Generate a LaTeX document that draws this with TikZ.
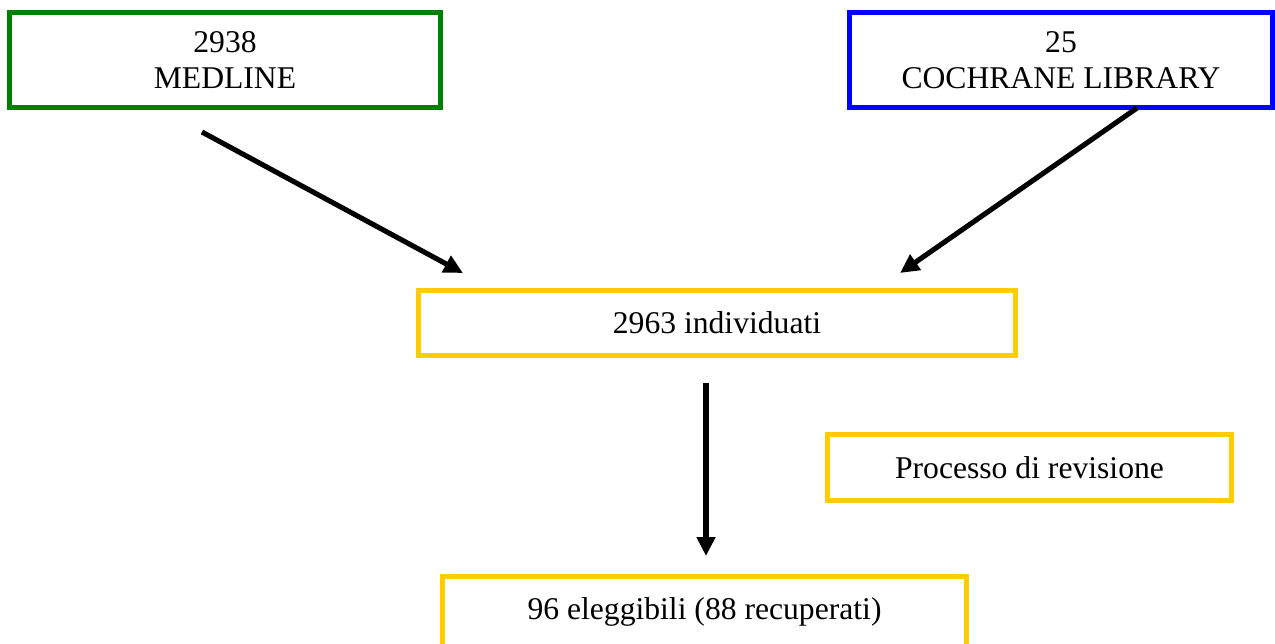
\documentclass[tikz,border=0pt]{standalone}
\usepackage{fontspec}
\setmainfont{Liberation Serif}
\usetikzlibrary{arrows.meta}
\definecolor{medgreen}{RGB}{0,128,0}
\definecolor{cochblue}{RGB}{0,0,255}
\definecolor{revgold}{RGB}{255,204,0}
\tikzset{
  dbbox/.style={draw, line width=2.8pt, align=center, inner sep=0pt,
    font=\fontsize{18}{20.5}\selectfont},
  flowarr/.style={line width=2.9pt, -{Triangle[length=0.38cm,width=0.36cm]}}
}
\begin{document}
\begin{tikzpicture}
				\useasboundingbox (0,0) rectangle (25.5,-12.86);
				\coordinate (M1) at (4.04,-2.64);
				\coordinate (M2) at (9.26,-5.46);
				\coordinate (C1) at (22.74,-2.16);
				\coordinate (C2) at (18.0,-5.46);
				\coordinate (I1) at (14.12,-7.66);
				\coordinate (I2) at (14.12,-11.12);
				\node [dbbox, draw=medgreen, minimum width=8.63cm, minimum height=1.9cm] (medline) at (4.5,-1.2) {2938\\MEDLINE};
				\node [dbbox, draw=cochblue, minimum width=8.46cm, minimum height=1.9cm] (cochrane) at (21.22,-1.2) {25\\COCHRANE LIBRARY};
				\node [dbbox, draw=revgold, minimum width=11.94cm, minimum height=1.3cm] (individuati) at (14.34,-6.46) {2963 individuati};
				\node [dbbox, draw=revgold, minimum width=8.08cm, minimum height=1.32cm] (revisione) at (20.59,-9.35) {Processo di revisione};
				\node [dbbox, draw=revgold, minimum width=10.48cm, minimum height=1.4cm] (eleggibili) at (14.09,-12.23) {96 eleggibili (88 recuperati)};
				\draw [flowarr] (M1) -- (M2);
				\draw [flowarr] (C1) -- (C2);
				%\draw [flowarr] (individuati) -- (eleggibili);
				\draw [flowarr] (I1) -- (I2);
			\end{tikzpicture}
\end{document}
